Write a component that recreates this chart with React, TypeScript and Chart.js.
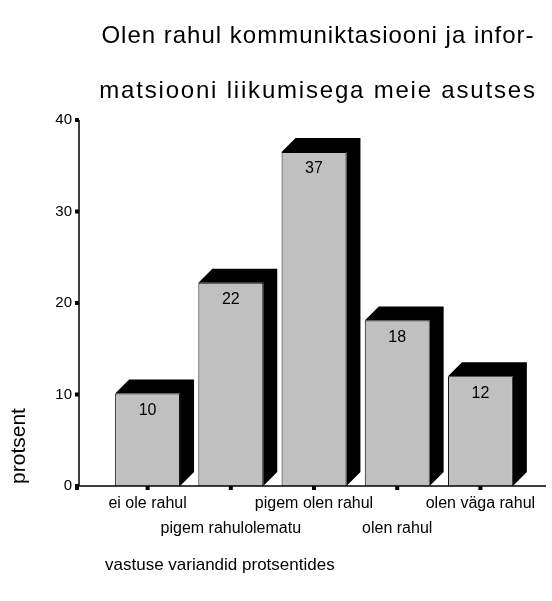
import React, { useEffect, useRef } from 'react';
import { Chart, registerables } from 'chart.js';

Chart.register(...registerables);

const titleLines = ['Olen rahul kommuniktasiooni ja infor-', 'matsiooni liikumisega meie asutses'];
const categories = [
  ['ei ole rahul'],
  ['', 'pigem rahulolematu'],
  ['pigem olen rahul'],
  ['', 'olen rahul'],
  ['olen väga rahul'],
];
const values = [10.1, 22.2, 36.5, 18.1, 12.0];
const yMin = 0;
const yMax = 40;
const yStep = 10;
const yTitle = 'protsent';
const xTitle = 'vastuse variandid protsentides';

const FONT = "'Liberation Sans', Arial, Helvetica, sans-serif";
const DEPTH = 14;

const shadowPlugin = {
  id: 'shadow3d',
  beforeDatasetsDraw(chart: any) {
    const meta = chart.getDatasetMeta(0);
    const ctx = chart.ctx;
    ctx.save();
    ctx.fillStyle = '#000';
    meta.data.forEach((bar: any) => {
      const { x, y, base, width } = bar.getProps(['x', 'y', 'base', 'width'], true);
      const l = x - width / 2;
      const r = x + width / 2;
      ctx.beginPath();
      ctx.moveTo(l, y);
      ctx.lineTo(l + DEPTH, y - DEPTH);
      ctx.lineTo(r + DEPTH, y - DEPTH);
      ctx.lineTo(r + DEPTH, base - DEPTH);
      ctx.lineTo(r, base);
      ctx.lineTo(r, y);
      ctx.closePath();
      ctx.fill();
    });
    ctx.restore();
  },
};

const labelPlugin = {
  id: 'valueLabels',
  afterDatasetsDraw(chart: any) {
    const meta = chart.getDatasetMeta(0);
    const ctx = chart.ctx;
    ctx.save();
    ctx.fillStyle = '#000';
    ctx.font = `16px ${FONT}`;
    ctx.textAlign = 'center';
    ctx.textBaseline = 'middle';
    meta.data.forEach((bar: any, i: number) => {
      const { x, y } = bar.getProps(['x', 'y'], true);
      ctx.fillText(String(Math.round(values[i])), x, y + 17);
    });
    ctx.restore();
  },
};

const axesPlugin = {
  id: 'axesLines',
  afterDraw(chart: any) {
    const ctx = chart.ctx;
    const { chartArea } = chart;
    const yScale = chart.scales.y;
    const xScale = chart.scales.x;
    const ax = chartArea.left - 27;
    const top = yScale.getPixelForValue(yMax);
    const bottom = yScale.getPixelForValue(yMin);
    ctx.save();
    ctx.strokeStyle = '#000';
    ctx.lineWidth = 1.5;
    ctx.beginPath();
    ctx.moveTo(ax, top);
    ctx.lineTo(ax, bottom);
    ctx.moveTo(ax - 2, bottom);
    ctx.lineTo(chart.width - 6, bottom);
    ctx.stroke();
    ctx.fillStyle = '#000';
    yScale.ticks.forEach((t: any) => {
      const py = yScale.getPixelForValue(t.value);
      ctx.fillRect(ax - 4, py - 2, 4, 4);
    });
    ctx.fillRect(ax - 4, bottom, 4, 4);
    for (let i = 0; i < categories.length; i++) {
      const px = xScale.getPixelForTick(i);
      ctx.fillRect(px - 2, bottom, 4, 4);
    }
    // axis titles and chart title
    ctx.textBaseline = 'middle';
    ctx.textAlign = 'center';
    ctx.font = `21px ${FONT}`;
    ctx.save();
    ctx.translate(19, 446);
    ctx.rotate(-Math.PI / 2);
    ctx.fillText(yTitle, 0, 0);
    ctx.restore();
    ctx.font = `17px ${FONT}`;
    ctx.textAlign = 'left';
    ctx.fillText(xTitle, 105, 565);
    ctx.font = `24px ${FONT}`;
    ctx.textAlign = 'center';
    ctx.textBaseline = 'alphabetic';
    (ctx as any).letterSpacing = '1px';
    ctx.fillText(titleLines[0], 318, 43);
    (ctx as any).letterSpacing = '1.8px';
    ctx.fillText(titleLines[1], 318, 98);
    ctx.restore();
  },
};

export default function App() {
  const ref = useRef<HTMLCanvasElement | null>(null);
  useEffect(() => {
    document.body.style.margin = '0';
    document.body.style.overflow = 'hidden';
    const canvas = ref.current;
    if (!canvas) return;
    const chart = new Chart(canvas, {
      type: 'bar',
      data: {
        labels: categories as any,
        datasets: [
          {
            data: values,
            backgroundColor: '#c0c0c0',
            borderColor: '#000',
            borderWidth: 1,
            barPercentage: 0.78,
            categoryPercentage: 1,
          },
        ],
      },
      options: {
        responsive: false,
        animation: false,
        devicePixelRatio: 1,
        layout: { padding: { top: 120, right: 30, bottom: 0, left: 0 } },
        plugins: {
          legend: { display: false },
          tooltip: { enabled: false },
          title: { display: false },
        },
        scales: {
          x: {
            type: 'category',
            offset: true,
            grid: { display: false, drawTicks: false },
            border: { display: false },
            ticks: {
              autoSkip: false,
              maxRotation: 0,
              minRotation: 0,
              padding: 5,
              color: '#000',
              font: { family: FONT, size: 16, lineHeight: 1.55 },
            },
            afterFit: (s: any) => {
              s.height = 115;
            },
          },
          y: {
            min: yMin,
            max: yMax,
            ticks: {
              stepSize: yStep,
              padding: 34,
              color: '#000',
              font: { family: FONT, size: 15 },
            },
            grid: { display: false, drawTicks: false },
            border: { display: false },
            afterFit: (s: any) => {
              s.width = 106;
            },
          },
        },
      } as any,
      plugins: [shadowPlugin, labelPlugin, axesPlugin],
    });
    return () => chart.destroy();
  }, []);
  return (
    <div style={{ position: 'fixed', left: 0, top: 0, width: 552, height: 601, background: '#fff' }}>
      <canvas ref={ref} width={552} height={601} style={{ width: 552, height: 601 }} />
    </div>
  );
}
